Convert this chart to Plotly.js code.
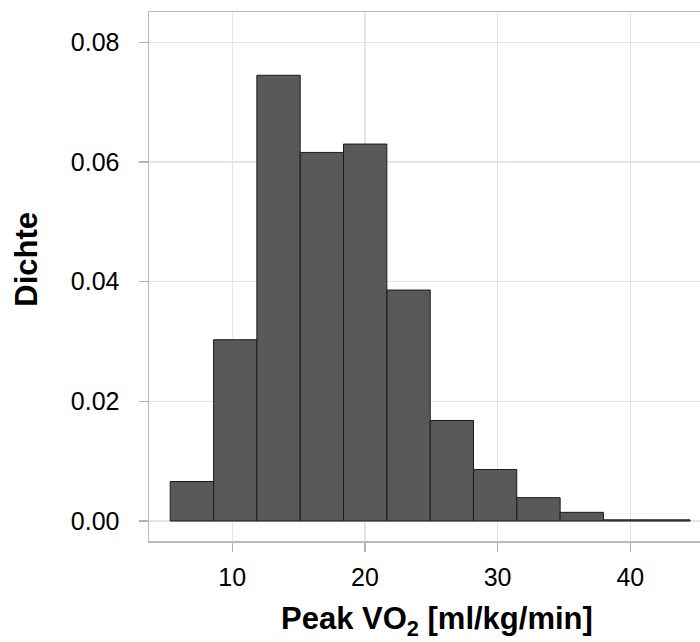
<!DOCTYPE html>
<html>
<head>
<meta charset="utf-8">
<script src="https://cdn.plot.ly/plotly-3.0.1.min.js"></script>
<style>
html,body{margin:0;padding:0;background:#fff;overflow:hidden;}
#chart{width:700px;height:642px;}
</style>
</head>
<body>
<div id="chart"></div>
<script>
// Histogram bins (Peak VO2, ml/kg/min) and densities
var binCenters = [6.96, 10.23, 13.49, 16.76, 20.02, 23.29, 26.55, 29.81, 33.08, 36.34, 39.61, 42.87];
var binWidth = 3.264;
var densities = [0.0066, 0.0303, 0.0745, 0.0616, 0.0630, 0.0386, 0.0168, 0.0086, 0.0039, 0.00145, 0.0002, 0.0002];
var xTicks = [10, 20, 30, 40];
var yTicks = [0, 0.02, 0.04, 0.06, 0.08];
var yTickText = ['0.00', '0.02', '0.04', '0.06', '0.08'];
var xTitle = 'Peak VO<sub>2</sub> [ml/kg/min]';
var yTitle = 'Dichte';

var widths = binCenters.map(function(){ return binWidth; });

var trace = {
  type: 'bar',
  x: binCenters,
  y: densities,
  width: widths,
  marker: {color: '#595959', line: {color: '#1a1a1a', width: 1}},
  hoverinfo: 'x+y'
};

var font = {family: '"Liberation Sans", Arial, sans-serif', color: '#000'};

var layout = {
  width: 700,
  height: 642,
  margin: {l: 149, r: 0, t: 12, b: 101, pad: 0},
  paper_bgcolor: '#fff',
  plot_bgcolor: '#fff',
  showlegend: false,
  font: font,
  xaxis: {
    range: [3.73, 45.25],
    tickvals: xTicks,
    ticktext: xTicks.map(String),
    ticks: 'outside', ticklen: 9, tickwidth: 1.2, tickcolor: '#b0b0b8',
    showline: true, linecolor: '#b8b8c0', linewidth: 1.5, mirror: true,
    showgrid: true, gridcolor: '#e3e5ec', gridwidth: 1.2,
    zeroline: false,
    tickfont: {family: font.family, size: 25, color: '#000'},
    ticklabelstandoff: 4,
    fixedrange: true
  },
  yaxis: {
    range: [-0.00334, 0.08507],
    tickvals: yTicks,
    ticktext: yTickText,
    ticks: 'outside', ticklen: 9, tickwidth: 1.2, tickcolor: '#b0b0b8',
    showline: true, linecolor: '#b8b8c0', linewidth: 1.5, mirror: false,
    showgrid: true, gridcolor: '#e3e5ec', gridwidth: 1.2,
    zeroline: false,
    tickfont: {family: font.family, size: 25, color: '#000'},
    ticklabelstandoff: 14,
    fixedrange: true
  },
  annotations: [
    {
      text: xTitle, xref: 'paper', yref: 'paper',
      x: (436.5 - 149) / 551, y: -(643 - 540.7) / 528.7,
      xanchor: 'center', yanchor: 'bottom', showarrow: false,
      font: {family: font.family, size: 31, color: '#000', weight: 'bold'}
    },
    {
      text: yTitle, xref: 'paper', yref: 'paper',
      x: -(149 - 27) / 551, y: (540.7 - 259.5) / 528.7,
      xanchor: 'center', yanchor: 'middle', textangle: -90, showarrow: false,
      font: {family: font.family, size: 31, color: '#000', weight: 'bold'}
    }
  ]
};

Plotly.newPlot('chart', [trace], layout, {displayModeBar: false, staticPlot: true});
</script>
</body>
</html>
